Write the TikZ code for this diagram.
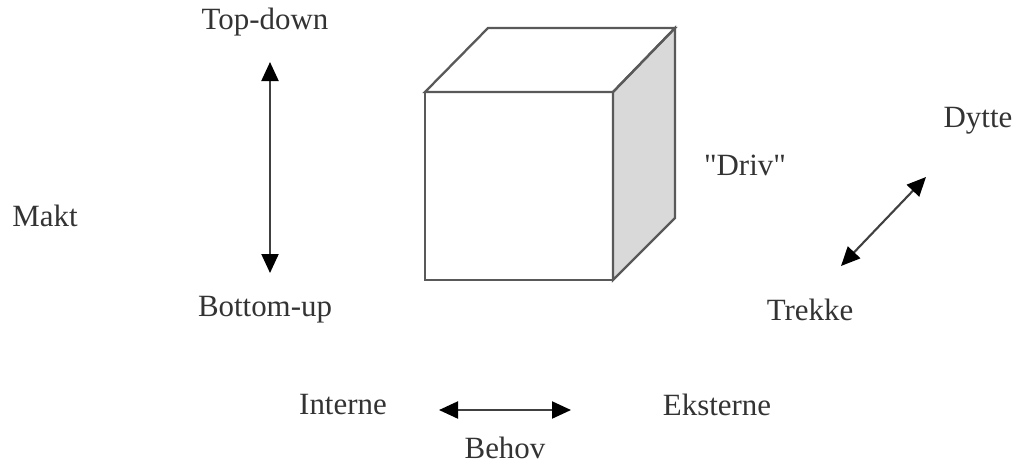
\documentclass[tikz,border=0pt]{standalone}
\usepackage{fontspec}
\setmainfont{Liberation Serif}[Ligatures=TeXOff]
\usetikzlibrary{arrows.meta}
\begin{document}
\begin{tikzpicture}[x=0.02cm, y=-0.02cm,
  lbl/.style={text=black!80, font=\fontsize{17.6}{20}\selectfont, inner sep=0pt},
  dbl/.style={black!75, line width=1.2pt, {Triangle[length=0.38cm, width=0.34cm, color=black]}-{Triangle[length=0.38cm, width=0.34cm, color=black]}}]
  % 余白を含めた全体の大きさ
  \useasboundingbox (0,0) rectangle (1016,464);

  % 立方体の頂点
  \coordinate (F1) at (425,92);
  \coordinate (F2) at (613,92);
  \coordinate (F3) at (613,280);
  \coordinate (F4) at (425,280);
  \coordinate (B1) at (488,28);
  \coordinate (B2) at (675,28);
  \coordinate (B3) at (675,218);

  % 立方体の描画 (右側面は灰色)
  \draw[black!65, line width=1.3pt, fill=black!15] (F2) -- (B2) -- (B3) -- (F3) -- cycle;
  \draw[black!65, line width=1.3pt] (F1) -- (B1) -- (B2) -- (F2) -- cycle;
  \draw[black!65, line width=1.3pt] (F1) -- (F2) -- (F3) -- (F4) -- cycle;

  % 矢印の端点
  \coordinate (MaktTop) at (270,62);
  \coordinate (MaktBot) at (270,273);
  \coordinate (DrivTop) at (926,177);
  \coordinate (DrivBot) at (841,266);
  \coordinate (BehovL)  at (439,410);
  \coordinate (BehovR)  at (571,410);

  % 両向き矢印
  \draw[dbl] (MaktBot) -- (MaktTop);
  \draw[dbl] (DrivBot) -- (DrivTop);
  \draw[dbl] (BehovL) -- (BehovR);

  % ラベル
  \node[lbl] (topdown)  at (265,22)  {Top-down};
  \node[lbl] (bottomup) at (265,310) {Bottom-up};
  \node[lbl] (makt)     at (45,216)  {Makt};
  \node[lbl] (driv)     at (745,165) {"Driv"};
  \node[lbl] (dytte)    at (978,121) {Dytte};
  \node[lbl] (trekke)   at (810,310) {Trekke};
  \node[lbl] (interne)  at (343,405) {Interne};
  \node[lbl] (eksterne) at (717,405) {Eksterne};
  \node[lbl] (behov)    at (505,448) {Behov};
\end{tikzpicture}
\end{document}
